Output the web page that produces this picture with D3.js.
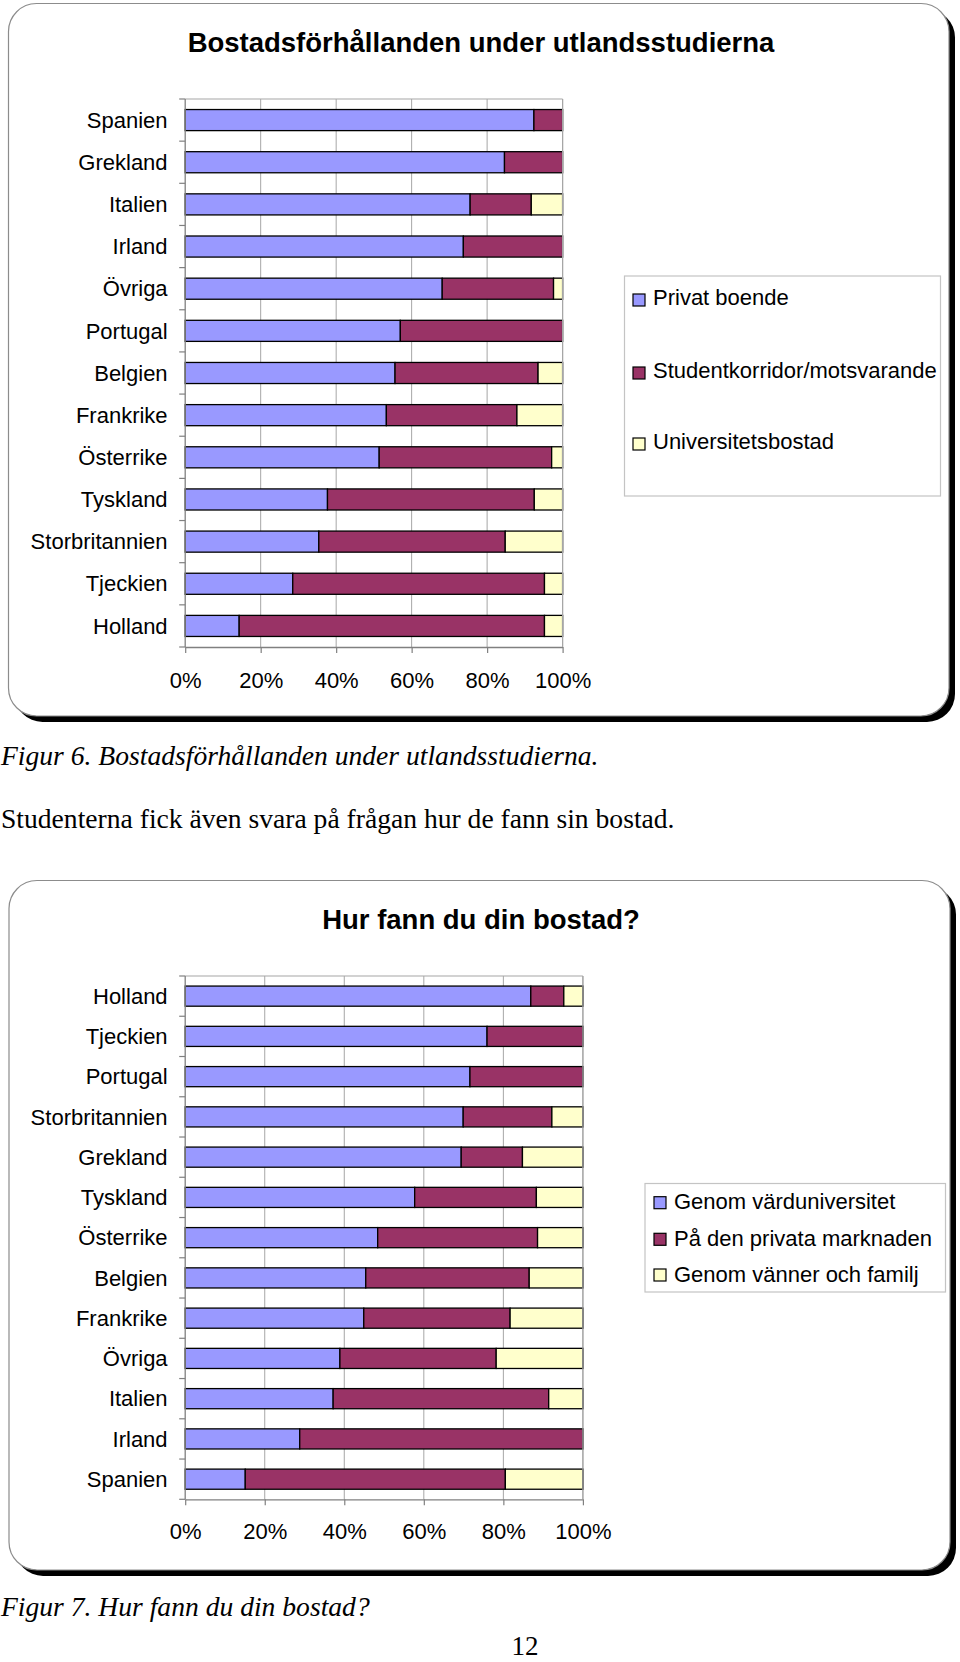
<!DOCTYPE html>
<html><head><meta charset="utf-8">
<script src="https://cdn.jsdelivr.net/npm/d3@7"></script>
<style>body{margin:0;background:#fff}svg{display:block}</style>
</head><body><svg id="page" width="960" height="1662"></svg>
<script>
// ---------- Data: Figur 6 ----------
const cats1 = ["Spanien","Grekland","Italien","Irland","Övriga","Portugal","Belgien","Frankrike","Österrike","Tyskland","Storbritannien","Tjeckien","Holland"];
const privatBoende = [92.4,84.6,75.5,73.7,68.1,57.0,55.6,53.3,51.4,37.7,35.4,28.5,14.3];
const studentkorridor = [7.6,15.4,16.2,26.3,29.5,43.0,37.9,34.6,45.7,54.8,49.4,66.7,80.9];
const universitetsbostad = [0,0,8.3,0,2.4,0,6.5,12.1,2.9,7.5,15.2,4.8,4.8];
const series1 = ["Privat boende","Studentkorridor/motsvarande","Universitetsbostad"];

// ---------- Data: Figur 7 ----------
const cats2 = ["Holland","Tjeckien","Portugal","Storbritannien","Grekland","Tyskland","Österrike","Belgien","Frankrike","Övriga","Italien","Irland","Spanien"];
const genomVarduniversitet = [86.9,75.9,71.6,69.9,69.4,57.7,48.4,45.4,44.9,38.9,37.2,28.8,15.1];
const privataMarknaden = [8.3,24.1,28.4,22.3,15.4,30.6,40.2,41.1,36.8,39.3,54.2,71.2,65.4];
const vannerFamilj = [4.8,0,0,7.8,15.2,11.7,11.4,13.5,18.3,21.8,8.6,0,19.5];
const series2 = ["Genom värduniversitet","På den privata marknaden","Genom vänner och familj"];

const tickValues = [0,20,40,60,80,100];
const tickLabels = ["0%","20%","40%","60%","80%","100%"];
const colors = ["#9999FF","#993366","#FFFFCC"];

const SANS = "'Liberation Sans', Arial, sans-serif";
const SERIF = "'Liberation Serif', 'Times New Roman', serif";

const svg = d3.select("#page");
svg.append("rect").attr("width",960).attr("height",1662).attr("fill","#fff");

function frame(x0,y0,x1,y1){
  const r = 28, off = 6;
  svg.append("rect").attr("x",x0+off).attr("y",y0+off).attr("width",x1-x0).attr("height",y1-y0)
    .attr("rx",r).attr("ry",r).attr("fill","#000");
  svg.append("rect").attr("x",x0).attr("y",y0).attr("width",x1-x0).attr("height",y1-y0)
    .attr("rx",r).attr("ry",r).attr("fill","#fff").attr("stroke","#8c8c8c").attr("stroke-width",1.2);
}

function chart(cfg){
  const g = svg.append("g");
  const rows = cfg.cats.map((c,i)=>({cat:c, s0:cfg.vals[0][i], s1:cfg.vals[1][i], s2:cfg.vals[2][i]}));
  const stacked = d3.stack().keys(["s0","s1","s2"])(rows);
  const x = d3.scaleLinear().domain([0,100]).range([cfg.left,cfg.right]);
  const y = d3.scaleBand().domain(cfg.cats).range([cfg.top,cfg.bottom]).paddingInner(0.5).paddingOuter(0.25);

  // gridlines
  g.selectAll("line.grid").data(tickValues.filter(v=>v>0)).enter().append("line")
    .attr("x1",d=>x(d)).attr("x2",d=>x(d)).attr("y1",cfg.top).attr("y2",cfg.bottom)
    .attr("stroke","#a6a6a6").attr("stroke-width",1);
  // plot top border
  g.append("line").attr("x1",cfg.left).attr("x2",cfg.right).attr("y1",cfg.top).attr("y2",cfg.top)
    .attr("stroke","#a6a6a6").attr("stroke-width",1.2);

  // bars
  stacked.forEach((layer,k)=>{
    g.selectAll(null).data(layer.filter(d=>d[1]-d[0]>0)).enter().append("rect")
      .attr("x",d=>x(d[0])).attr("width",d=>x(d[1])-x(d[0]))
      .attr("y",d=>y(d.data.cat)).attr("height",y.bandwidth())
      .attr("fill",colors[k]).attr("stroke","#000").attr("stroke-width",1.3);
  });

  // category axis (labels)
  const ax = g.append("g").attr("transform",`translate(${cfg.left},0)`)
    .call(d3.axisLeft(y).tickSize(0).tickPadding(17.6));
  ax.select(".domain").remove();
  ax.selectAll("text").attr("font-family",SANS).attr("font-size",22).attr("fill","#000").attr("dy","0.35em");
  // category axis line + boundary ticks
  g.append("line").attr("x1",cfg.left).attr("x2",cfg.left).attr("y1",cfg.top).attr("y2",cfg.bottom)
    .attr("stroke","#808080").attr("stroke-width",1.3);
  const bounds = d3.range(cfg.cats.length+1).map(i=>cfg.top + i*y.step());
  g.selectAll(null).data(bounds).enter().append("line")
    .attr("x1",cfg.left-6).attr("x2",cfg.left).attr("y1",d=>d).attr("y2",d=>d)
    .attr("stroke","#808080").attr("stroke-width",1.2);

  // value axis
  const bx = g.append("g").attr("transform",`translate(0,${cfg.bottom})`)
    .call(d3.axisBottom(x).tickValues(tickValues).tickFormat((d,i)=>tickLabels[i]).tickSizeInner(6).tickSizeOuter(0).tickPadding(cfg.tickPad));
  bx.select(".domain").attr("stroke","#808080").attr("stroke-width",1.3);
  bx.selectAll(".tick line").attr("stroke","#808080").attr("stroke-width",1.2);
  bx.selectAll("text").attr("font-family",SANS).attr("font-size",22).attr("fill","#000");

  // right border of plot
  g.append("line").attr("x1",cfg.right).attr("x2",cfg.right).attr("y1",cfg.top).attr("y2",cfg.bottom)
    .attr("stroke","#a6a6a6").attr("stroke-width",1.2);

  // title
  g.append("text").attr("x",481).attr("y",cfg.titleY).attr("text-anchor","middle")
    .attr("font-family",SANS).attr("font-weight","bold").attr("font-size",27.5).text(cfg.title);

  // legend
  const L = cfg.legend;
  g.append("rect").attr("x",L.x).attr("y",L.y).attr("width",L.w).attr("height",L.h)
    .attr("fill","#fff").attr("stroke","#c4c4c4").attr("stroke-width",1.2);
  cfg.names.forEach((n,i)=>{
    g.append("rect").attr("x",L.sx).attr("y",L.ys[i]-5+L.sdy).attr("width",12).attr("height",12)
      .attr("fill",colors[i]).attr("stroke","#000").attr("stroke-width",1.2);
    g.append("text").attr("x",L.tx).attr("y",L.ys[i]).attr("dy","0.35em")
      .attr("font-family",SANS).attr("font-size",22).attr("fill","#000").text(n);
  });
}

frame(8.5,3.5,949,716);
chart({cats:cats1, vals:[privatBoende,studentkorridor,universitetsbostad], names:series1,
  left:185.2, right:562.6, top:99, bottom:647, tickPad:19,
  title:"Bostadsförhållanden under utlandsstudierna", titleY:52.3,
  legend:{x:624.5,y:276,w:316,h:220,sx:633,tx:653,sdy:2,ys:[297,370,441]}});

frame(9,880.5,950,1570);
chart({cats:cats2, vals:[genomVarduniversitet,privataMarknaden,vannerFamilj], names:series2,
  left:185.2, right:582.9, top:976, bottom:1499.3, tickPad:18.5,
  title:"Hur fann du din bostad?", titleY:929.3,
  legend:{x:645,y:1183.5,w:300.5,h:108.5,sx:654,tx:674,sdy:0,ys:[1201.7,1238.3,1274]}});

// body text
svg.append("text").attr("x",1).attr("y",765).attr("font-family",SERIF).attr("font-style","italic")
  .attr("font-size",27.6).text("Figur 6. Bostadsförhållanden under utlandsstudierna.");
svg.append("text").attr("x",1).attr("y",828).attr("font-family",SERIF)
  .attr("font-size",27.6).text("Studenterna fick även svara på frågan hur de fann sin bostad.");
svg.append("text").attr("x",1).attr("y",1616).attr("font-family",SERIF).attr("font-style","italic")
  .attr("font-size",27.6).text("Figur 7. Hur fann du din bostad?");
svg.append("text").attr("x",525).attr("y",1655).attr("text-anchor","middle").attr("font-family",SERIF)
  .attr("font-size",27).text("12");
</script>
</body></html>
